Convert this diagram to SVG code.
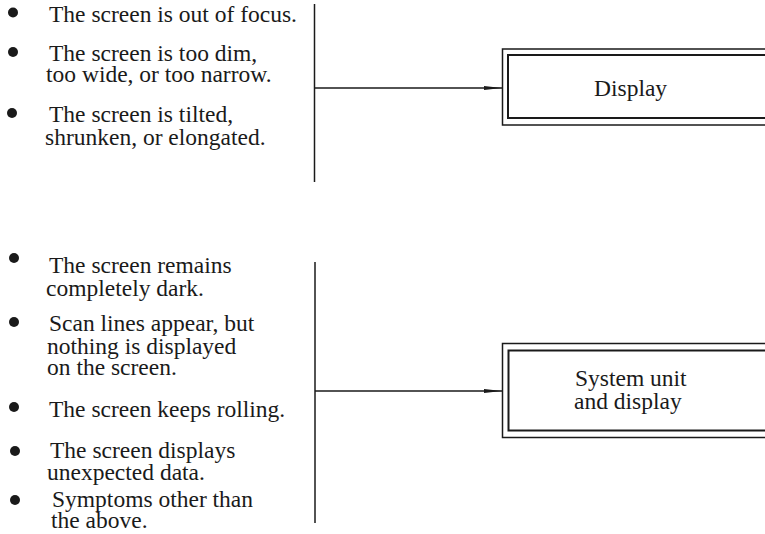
<svg xmlns="http://www.w3.org/2000/svg" width="765" height="534" viewBox="0 0 765 534">
  <style>
    .t { font-family: "Liberation Serif", "Times New Roman", serif; font-size: 23.5px; fill: #1a1a1a; }
    .b { fill: #1a1a1a; }
    .ln { stroke: #1a1a1a; stroke-width: 1.5; fill: none; }
    .outer { stroke: #1a1a1a; stroke-width: 1.5; fill: #fff; }
    .inner { stroke: #1a1a1a; stroke-width: 2; fill: none; }
  </style>
  <defs>
    <marker id="arr" markerUnits="userSpaceOnUse" markerWidth="19" markerHeight="6" refX="18" refY="3" orient="auto">
      <path d="M0,1 L18,3 L0,5 Z" fill="#1a1a1a"/>
    </marker>
  </defs>
  <rect width="765" height="534" fill="#fff"/>

  <g id="symptoms-display">
    <circle class="b" cx="13" cy="12.5" r="5"/>
    <text class="t" x="49" y="21.7">The screen is out of focus.</text>
    <circle class="b" cx="13" cy="52" r="5"/>
    <text class="t" x="49" y="60.5">The screen is too dim,</text>
    <text class="t" x="46" y="82">too wide, or too narrow.</text>
    <circle class="b" cx="12" cy="113" r="5"/>
    <text class="t" x="49" y="122">The screen is tilted,</text>
    <text class="t" x="45" y="144.5">shrunken, or elongated.</text>
  </g>

  <g id="symptoms-system">
    <circle class="b" cx="14" cy="258" r="5"/>
    <text class="t" x="49" y="273">The screen remains</text>
    <text class="t" x="46" y="295.5">completely dark.</text>
    <circle class="b" cx="14" cy="322" r="5"/>
    <text class="t" x="49" y="331">Scan lines appear, but</text>
    <text class="t" x="47" y="353.5">nothing is displayed</text>
    <text class="t" x="47" y="375">on the screen.</text>
    <circle class="b" cx="14" cy="407" r="5"/>
    <text class="t" x="49" y="417">The screen keeps rolling.</text>
    <circle class="b" cx="15" cy="451" r="5"/>
    <text class="t" x="50" y="458">The screen displays</text>
    <text class="t" x="47" y="480">unexpected data.</text>
    <circle class="b" cx="15" cy="500" r="5"/>
    <text class="t" x="52" y="506.7">Symptoms other than</text>
    <text class="t" x="51" y="528">the above.</text>
  </g>

  <g id="node-display">
    <rect class="outer" x="502.5" y="49" width="280" height="76"/>
    <rect class="inner" x="508" y="55" width="270" height="63"/>
    <text class="t" x="594" y="96">Display</text>
  </g>

  <g id="node-system">
    <rect class="outer" x="502.5" y="343.5" width="280" height="94"/>
    <rect class="inner" x="508.5" y="350.5" width="270" height="80"/>
    <text class="t" x="575" y="386">System unit</text>
    <text class="t" x="574" y="409">and display</text>
  </g>

  <g id="connectors">
    <line class="ln" x1="314.5" y1="4" x2="314.5" y2="182"/>
    <line class="ln" x1="314.5" y1="88" x2="502" y2="88" marker-end="url(#arr)"/>
    <line class="ln" x1="315" y1="262" x2="315" y2="523"/>
    <line class="ln" x1="315" y1="391" x2="502" y2="391" marker-end="url(#arr)"/>
  </g>
</svg>
